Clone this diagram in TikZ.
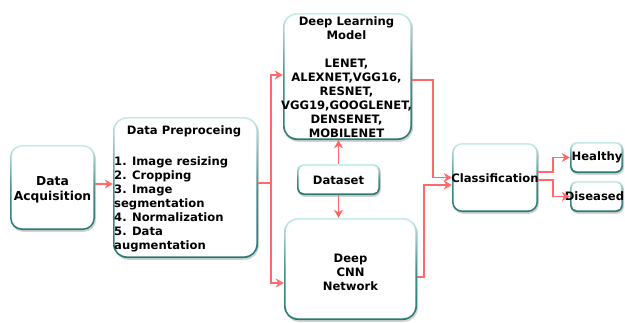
\documentclass[tikz,border=0pt]{standalone}
\usepackage{fontspec}
\setmainfont{DejaVu Sans}
\usetikzlibrary{arrows.meta,shadows,calc}
\definecolor{tealA}{RGB}{38,122,114}
\definecolor{tealtop}{RGB}{200,236,233}
\definecolor{arrc}{RGB}{255,105,105}
\tikzset{
  outerbox/.style={rounded corners=#1, top color=tealtop, bottom color=tealA,
    middle color=tealA!80!tealtop, draw=none, inner sep=0pt,
    drop shadow={shadow xshift=1pt,shadow yshift=-1.8pt,opacity=0.35}},
  innerbox/.style={rounded corners=#1, fill=white, draw=none, inner sep=0pt},
  txt/.style={align=center, inner sep=0pt, font=\fontsize{11.6}{14}\selectfont\bfseries},
  bigtxt/.style={align=center, inner sep=0pt, font=\fontsize{12.3}{15}\selectfont\bfseries},
  arr/.style={draw=arrc, line width=1.5pt, -{Stealth[length=8pt,width=9pt,inset=2.5pt]}}
}
\newcommand\mybox[6]{%
  \node[outerbox=#6pt, minimum width=#4pt, minimum height=#5pt] (#1) at (#2,#3) {};
  \node[innerbox=#6pt-1.7pt, minimum width=#4pt-3.4pt, minimum height=#5pt-3.4pt] (#1-in) at (#2,#3) {};
}
\begin{document}
\begin{tikzpicture}[x=1pt,y=-1pt]
\useasboundingbox (0,0) rectangle (625,322);
\mybox{DA}{52.5}{187.5}{85}{85}{12}
\mybox{DP}{185.5}{187.5}{145}{141}{14}
\mybox{DLM}{347.5}{76.5}{129}{127}{14}
\mybox{DS}{338.5}{179.5}{83}{31}{7}
\mybox{CNN}{350.5}{269}{133}{102}{14}
\mybox{CL}{495}{177.5}{86}{69}{10}
\mybox{HE}{596.5}{157.5}{53}{31}{7}
\mybox{DI}{596.5}{196.5}{53}{31}{7}

\node[bigtxt] (DA-t) at (52.5,189.5) {Data\\Acquisition};
\node[txt] (DP-title) at (184,131) {Data Preproceing};
\node[txt, align=left, anchor=north west] (DP-list) at (114,156.3)
  {1. Image resizing\\2. Cropping\\3. Image\\segmentation\\4. Normalization\\5. Data\\augmentation};
\node[txt] (DLM-t) at (346.5,77) {Deep Learning\\Model\\[14pt]LENET,\\ALEXNET,VGG16,\\RESNET,\\VGG19,GOOGLENET,\\DENSENET,\\MOBILENET};
\node[txt] (DS-t) at (338.5,180) {Dataset};
\node[txt] (CNN-t) at (350.5,272) {Deep\\CNN\\Network};
\node[txt] (CL-t) at (495,178) {Classification};
\node[txt] (HE-t) at (597,157) {Healthy};
\node[txt] (DI-t) at (594.5,196) {Diseased};

\draw[arr] ([yshift=3.5pt]DA.east) -- ([yshift=3.5pt]DP.west);
\draw[arr] ([yshift=4.5pt]DP.east) -- ++(13,0) |- ([yshift=1.5pt]DLM.west);
\draw[arr] ([yshift=4.5pt]DP.east) -- ++(13,0) |- ([yshift=-14pt]CNN.west);
\draw[arr] (DS.north) -- (DS.north |- DLM.south);
\draw[arr] (DS.south) -- (DS.south |- CNN.north);
\draw[arr] ([yshift=-3.5pt]DLM.east) -- ++(21,0) |- ([yshift=0pt]CL.west);
\draw[arr] ([yshift=-8pt]CNN.east) -- ++(7,0) |- ([yshift=-7.5pt]CL.west);
\draw[arr] ([yshift=5.5pt]CL.east) -- ++(15,0) |- (HE.west);
\draw[arr] ([yshift=-2.5pt]CL.east) -- ++(15,0) |- (DI.west);
\end{tikzpicture}
\end{document}
